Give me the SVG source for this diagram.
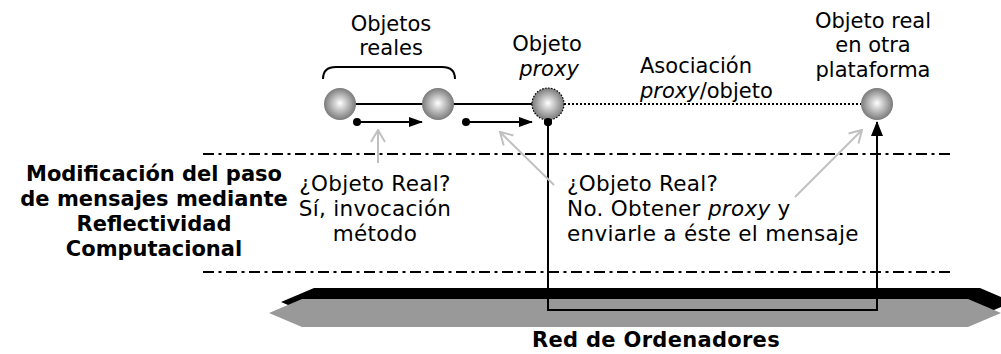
<svg xmlns="http://www.w3.org/2000/svg" width="1001" height="354" viewBox="0 0 1001 354">
<defs>
<radialGradient id="sph" cx="0.5" cy="0.5" r="0.5" fx="0.5" fy="0.47">
<stop offset="0" stop-color="#ffffff"/>
<stop offset="0.3" stop-color="#d6d6d6"/>
<stop offset="1" stop-color="#7a7a7a"/>
</radialGradient>
<marker id="tri" viewBox="0 0 14 10" refX="13" refY="5" markerWidth="14" markerHeight="10" markerUnits="userSpaceOnUse" orient="auto">
<path d="M0,0 L14,5 L0,10 Z" fill="#000"/>
</marker>
<marker id="triBig" viewBox="0 0 15 12" refX="14" refY="6" markerWidth="15" markerHeight="12" markerUnits="userSpaceOnUse" orient="auto">
<path d="M0,0 L15,6 L0,12 Z" fill="#000"/>
</marker>
<marker id="vee" viewBox="0 0 14 16" refX="13" refY="8" markerWidth="14" markerHeight="16" markerUnits="userSpaceOnUse" orient="auto">
<path d="M1,1 L13,8 L1,15" fill="none" stroke="#c0c0c0" stroke-width="2"/>
</marker>
</defs>
<style>
text{font-family:"DejaVu Sans","Verdana",sans-serif;font-size:21px;fill:#000}
.c{text-anchor:middle}
.b{font-weight:bold}
.i{font-style:italic}
.n{font-size:21.5px;letter-spacing:0.3px}
.sphere{fill:url(#sph)}
.ln{stroke:#000;stroke-width:2;fill:none}
.dd{stroke:#000;stroke-width:2;stroke-dasharray:11 4.5 3 4.5;fill:none}
.gray{stroke:#c0c0c0;stroke-width:2;fill:none}
</style>

<g id="network">
<polygon points="281,302 314,288 980,288 1013,302 980,316 314,316" fill="#000"/>
<polygon points="269,313 302,299 968,299 1001,313 968,327 302,327" fill="#999"/>
<text class="c b" x="656" y="347" style="letter-spacing:0.3px">Red de Ordenadores</text>
</g>

<g id="layers">
<line class="dd" x1="203" y1="154" x2="953" y2="154"/>
<line class="dd" x1="203" y1="272" x2="953" y2="272"/>
<text class="c b" x="154" y="181">Modificación del paso</text>
<text class="c b" x="154" y="206">de mensajes mediante</text>
<text class="c b" x="154" y="231">Reflectividad</text>
<text class="c b" x="154" y="256">Computacional</text>
</g>

<g id="connectors">
<line class="ln" x1="340" y1="104" x2="548" y2="104"/>
<line x1="564" y1="104" x2="861" y2="104" stroke="#000" stroke-width="2" stroke-dasharray="2 2"/>
<circle cx="357" cy="122" r="4" fill="#000"/>
<line class="ln" x1="357" y1="122" x2="422" y2="122" marker-end="url(#tri)"/>
<circle cx="466" cy="122" r="4" fill="#000"/>
<line class="ln" x1="466" y1="122" x2="532" y2="122" marker-end="url(#tri)"/>
<circle cx="548" cy="122" r="4" fill="#000"/>
<polyline class="ln" points="548,122 548,310 877,310 877,122" marker-end="url(#triBig)"/>
<line class="gray" x1="378" y1="163" x2="378" y2="130" marker-end="url(#vee)"/>
<line class="gray" x1="554" y1="185" x2="500" y2="132" marker-end="url(#vee)"/>
<line class="gray" x1="795" y1="197" x2="862" y2="130" marker-end="url(#vee)"/>
</g>

<g id="real-objects">
<path class="ln" d="M323,79 Q323,67 336,67 L442,67 Q455,67 455,79"/>
<text class="c" x="391" y="31">Objetos</text>
<text class="c" x="391" y="55">reales</text>
<circle class="sphere" cx="340" cy="104" r="16"/>
<circle class="sphere" cx="438" cy="104" r="16"/>
</g>

<g id="proxy-object">
<text class="c" x="547" y="51">Objeto</text>
<text class="c i" x="549" y="76">proxy</text>
<circle class="sphere" cx="548" cy="104" r="16" stroke="#000" stroke-width="1.2" stroke-dasharray="1.5 1.5"/>
<circle cx="548" cy="122" r="4" fill="#000"/>
</g>

<g id="association-label">
<text x="640" y="73">Asociación</text>
<text x="640" y="98"><tspan class="i">proxy</tspan>/objeto</text>
</g>

<g id="remote-object">
<text class="c" x="873" y="28">Objeto real</text>
<text class="c" x="873" y="52">en otra</text>
<text class="c" x="873" y="77">plataforma</text>
<circle class="sphere" cx="877" cy="104" r="16"/>
</g>

<g id="note-real">
<text class="c n" x="375" y="191">¿Objeto Real?</text>
<text class="c n" x="375" y="216">Sí, invocación</text>
<text class="c n" x="375" y="241">método</text>
</g>

<g id="note-proxy">
<text class="n" x="567" y="191">¿Objeto Real?</text>
<text class="n" x="567" y="216">No. Obtener <tspan class="i">proxy</tspan> y</text>
<text class="n" x="567" y="241">enviarle a éste el mensaje</text>
</g>
</svg>
